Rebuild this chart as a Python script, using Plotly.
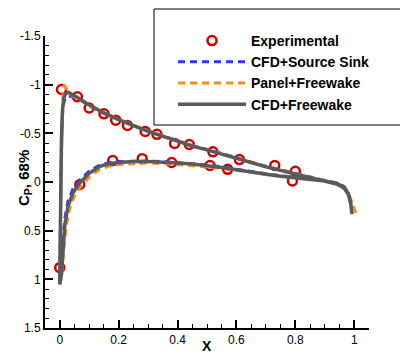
import plotly.graph_objects as go

# ---------------- data ----------------
exp_x_upper = [0.006, 0.06, 0.10, 0.15, 0.19, 0.23, 0.29, 0.33, 0.39, 0.44, 0.52, 0.61, 0.73, 0.80]
exp_cp_upper = [-0.95, -0.875, -0.76, -0.70, -0.635, -0.58, -0.52, -0.49, -0.395, -0.385, -0.31, -0.23, -0.17, -0.11]
exp_x_lower = [0.0, 0.068, 0.18, 0.28, 0.38, 0.51, 0.57, 0.79]
exp_cp_lower = [0.88, 0.026, -0.22, -0.24, -0.20, -0.17, -0.13, -0.01]

# CFD+Source Sink
ss_x_upper = [0.0, 0.002, 0.004, 0.007, 0.01, 0.014, 0.02, 0.03, 0.045, 0.07, 0.1, 0.15, 0.2, 0.25, 0.3, 0.35,
              0.4, 0.45, 0.5, 0.55, 0.6, 0.65, 0.7, 0.75, 0.8, 0.85, 0.9, 0.94, 0.965, 0.98, 0.988, 0.992]
ss_cp_upper = [1.05, 0.55, -0.05, -0.5, -0.72, -0.82, -0.87, -0.885, -0.875, -0.84, -0.785, -0.705, -0.64, -0.58,
               -0.525, -0.47, -0.42, -0.375, -0.33, -0.29, -0.25, -0.2, -0.16, -0.12, -0.085, -0.05, -0.015,
               0.015, 0.055, 0.125, 0.215, 0.325]
ss_x_lower = [0.0, 0.003, 0.006, 0.011, 0.017, 0.028, 0.045, 0.068, 0.1, 0.136, 0.17, 0.2, 0.25, 0.3, 0.35, 0.4,
              0.45, 0.5, 0.55, 0.6, 0.65, 0.7, 0.75, 0.8, 0.85, 0.9, 0.94, 0.965, 0.98, 0.988, 0.992]
ss_cp_lower = [1.05, 0.98, 0.9, 0.62, 0.38, 0.2, 0.07, -0.02, -0.11, -0.175, -0.2, -0.21, -0.215, -0.215, -0.21,
               -0.2, -0.19, -0.175, -0.155, -0.13, -0.105, -0.085, -0.065, -0.05, -0.035, -0.015, 0.01, 0.045,
               0.115, 0.205, 0.325]

# Panel+Freewake
pf_x_upper = [0.0, 0.003, 0.006, 0.009, 0.012, 0.016, 0.022, 0.03, 0.045, 0.07, 0.1, 0.15, 0.2, 0.25, 0.3, 0.35,
              0.4, 0.45, 0.5, 0.55, 0.6, 0.65, 0.7, 0.75, 0.8, 0.85, 0.9, 0.94, 0.965, 0.98, 0.992, 1.005]
pf_cp_upper = [1.05, 0.5, -0.2, -0.75, -0.98, -0.99, -0.96, -0.92, -0.88, -0.84, -0.79, -0.71, -0.645, -0.585,
               -0.525, -0.475, -0.425, -0.375, -0.335, -0.295, -0.25, -0.205, -0.16, -0.12, -0.085, -0.05, -0.015,
               0.02, 0.06, 0.12, 0.21, 0.315]
pf_x_lower = [0.0, 0.004, 0.008, 0.014, 0.021, 0.033, 0.05, 0.075, 0.1, 0.136, 0.17, 0.2, 0.25, 0.3, 0.35, 0.4,
              0.45, 0.5, 0.55, 0.6, 0.65, 0.7, 0.75, 0.8, 0.85, 0.9, 0.94, 0.965, 0.98, 0.992, 1.005]
pf_cp_lower = [1.05, 1.0, 0.9, 0.68, 0.47, 0.28, 0.14, 0.03, -0.05, -0.13, -0.165, -0.18, -0.19, -0.195, -0.19,
               -0.18, -0.17, -0.155, -0.14, -0.12, -0.1, -0.08, -0.06, -0.045, -0.03, -0.01, 0.015, 0.05, 0.11,
               0.2, 0.315]

# CFD+Freewake
fw_x_upper = [0.0, 0.002, 0.004, 0.006, 0.009, 0.013, 0.02, 0.03, 0.045, 0.07, 0.1, 0.15, 0.2, 0.25, 0.3, 0.35,
              0.4, 0.45, 0.5, 0.55, 0.6, 0.65, 0.7, 0.75, 0.8, 0.85, 0.9, 0.94, 0.965, 0.98, 0.988, 0.992]
fw_cp_upper = [1.05, 0.6, 0.0, -0.45, -0.72, -0.85, -0.91, -0.92, -0.9, -0.85, -0.79, -0.71, -0.64, -0.58, -0.52,
               -0.47, -0.42, -0.37, -0.33, -0.29, -0.245, -0.2, -0.155, -0.115, -0.08, -0.045, -0.01, 0.02, 0.06,
               0.13, 0.22, 0.33]
fw_x_lower = [0.0, 0.003, 0.006, 0.011, 0.017, 0.028, 0.045, 0.068, 0.1, 0.136, 0.17, 0.2, 0.25, 0.3, 0.35, 0.4,
              0.45, 0.5, 0.55, 0.6, 0.65, 0.7, 0.75, 0.8, 0.85, 0.9, 0.94, 0.965, 0.98, 0.988, 0.992]
fw_cp_lower = [1.05, 1.0, 0.95, 0.69, 0.45, 0.25, 0.11, 0.01, -0.09, -0.16, -0.19, -0.2, -0.21, -0.21, -0.205,
               -0.195, -0.185, -0.17, -0.15, -0.125, -0.1, -0.08, -0.06, -0.045, -0.03, -0.01, 0.015, 0.05, 0.12,
               0.21, 0.33]

y_tickvals = [-1.5, -1, -0.5, 0, 0.5, 1, 1.5]
y_ticktext = ["-1.5", "-1", "-0.5", "0", "0.5", "1", "1.5"]
x_tickvals = [0, 0.2, 0.4, 0.6, 0.8, 1]
x_ticktext = ["0", "0.2", "0.4", "0.6", "0.8", "1"]

FONT = "Arial, Liberation Sans, sans-serif"


def loop(xu, cu, xl, cl):
    return list(reversed(xu)) + xl[1:], list(reversed(cu)) + cl[1:]


fig = go.Figure()

fig.add_trace(go.Scatter(
    x=exp_x_upper + exp_x_lower, y=exp_cp_upper + exp_cp_lower, mode="markers",
    name="Experimental",
    marker=dict(symbol="circle-open", size=9, color="#d00000", line=dict(width=2.5, color="#d00000")),
))

for name, xu, cu, xl, cl, color, dash, w in [
    ("CFD+Source Sink", ss_x_upper, ss_cp_upper, ss_x_lower, ss_cp_lower, "#3333ff", "7px,5px", 3),
    ("Panel+Freewake", pf_x_upper, pf_cp_upper, pf_x_lower, pf_cp_lower, "#ff8c1a", "7px,5px", 3),
    ("CFD+Freewake", fw_x_upper, fw_cp_upper, fw_x_lower, fw_cp_lower, "#5a5a5a", "solid", 3.5),
]:
    xs, cs = loop(xu, cu, xl, cl)
    fig.add_trace(go.Scatter(x=xs, y=cs, mode="lines", name=name,
                             line=dict(color=color, width=w, dash=dash)))

L, R, T, B = 45, 31, 36, 26
W, H = 400, 354
pw, ph = W - L - R, H - T - B


def px2paper_x(px):
    return (px - L) / pw


def px2paper_y(py):
    return (H - B - py) / ph


fig.update_layout(
    width=W, height=H,
    margin=dict(l=L, r=R, t=T, b=B),
    paper_bgcolor="white", plot_bgcolor="white",
    font=dict(family=FONT, size=12, color="black"),
    showlegend=True,
    legend=dict(
        x=px2paper_x(173), xanchor="left",
        y=px2paper_y(25), yanchor="top",
        bgcolor="rgba(0,0,0,0)", borderwidth=0,
        font=dict(family=FONT, size=14, color="black", weight="bold"),
        itemwidth=68, traceorder="normal", tracegroupgap=0,
    ),
    shapes=[dict(type="rect", xref="paper", yref="paper",
                 x0=px2paper_x(154), x1=px2paper_x(410),
                 y0=px2paper_y(125), y1=px2paper_y(9),
                 line=dict(color="black", width=1), fillcolor="white", layer="below")],
    annotations=[
        dict(text="<b>C<sub>P</sub>, 68%</b>", xref="paper", yref="paper",
             x=px2paper_x(25), y=px2paper_y(178), textangle=-90, showarrow=False,
             font=dict(family=FONT, size=15, color="black"), xanchor="center", yanchor="middle"),
        dict(text="<b>X</b>", xref="paper", yref="paper",
             x=px2paper_x(207), y=px2paper_y(346), showarrow=False,
             font=dict(family=FONT, size=14, color="black"), xanchor="center", yanchor="middle"),
    ],
)

fig.update_xaxes(
    range=[-0.05, 1.05], showgrid=False, zeroline=False,
    showline=True, linecolor="black", linewidth=2,
    tickvals=x_tickvals, ticktext=x_ticktext,
    ticks="inside", ticklen=8, tickwidth=2, tickcolor="black",
    minor=dict(dtick=0.05, tick0=0, ticks="inside", ticklen=4, tickwidth=1, tickcolor="black"),
    tickfont=dict(family=FONT, size=12, color="black"),
    automargin=False,
)
fig.update_yaxes(
    range=[1.5, -1.5], showgrid=False, zeroline=False,
    showline=True, linecolor="black", linewidth=2,
    tickvals=y_tickvals, ticktext=y_ticktext,
    ticks="inside", ticklen=8, tickwidth=2, tickcolor="black",
    minor=dict(dtick=0.1, tick0=0, ticks="inside", ticklen=4, tickwidth=1, tickcolor="black"),
    tickfont=dict(family=FONT, size=12, color="black"),
    automargin=False,
)

fig.write_html("out.html")
